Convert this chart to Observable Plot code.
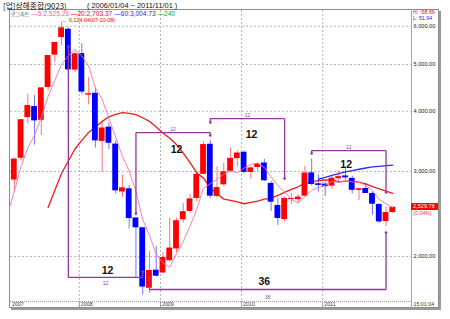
<!DOCTYPE html>
<html><head><meta charset="utf-8">
<script src="https://cdn.jsdelivr.net/npm/d3@7"></script>
<script src="https://cdn.jsdelivr.net/npm/@observablehq/plot@0.6"></script>
<style>
body{margin:0;background:#fff;}
#wrap{position:relative;width:450px;height:319px;overflow:hidden;font-family:"Liberation Sans",Arial,sans-serif;}
#wrap svg{position:absolute;left:0;top:0;}
.ov{position:absolute;white-space:pre;line-height:1;}
</style></head>
<body><div id="wrap"></div>
<script>
// ---- data: Shanghai Composite monthly bars ----
const months = ("2006-01 2006-02 2006-03 2006-04 2006-05 2006-06 2006-07 2006-08 2006-09 2006-10 2006-11 2006-12 " +
"2007-01 2007-02 2007-03 2007-04 2007-05 2007-06 2007-07 2007-08 2007-09 2007-10 2007-11 2007-12 " +
"2008-01 2008-02 2008-03 2008-04 2008-05 2008-06 2008-07 2008-08 2008-09 2008-10 2008-11 2008-12 " +
"2009-01 2009-02 2009-03 2009-04 2009-05 2009-06 2009-07 2009-08 2009-09 2009-10 2009-11 2009-12 " +
"2010-01 2010-02 2010-03 2010-04 2010-05 2010-06 2010-07 2010-08 2010-09 2010-10 2010-11 2010-12 " +
"2011-01 2011-02 2011-03 2011-04 2011-05 2011-06 2011-07 2011-08 2011-09 2011-10 2011-11").split(" ");
const open = [1163,1258,1299,1298,1450,1640,1675,1612,1660,1754,1840,2101,
2728,2773,2881,3196,3880,4090,3831,4479,5229,5683,5914,4868,
5265,4320,4358,3463,3708,3420,2722,2763,2404,2294,1719,1874,
1849,1961,2074,2383,2480,2638,2961,3417,2664,2816,3003,3191,
3289,2986,3059,3125,2835,2552,2386,2624,2623,2667,2981,2830,
2825,2798,2900,2938,2904,2741,2767,2702,2565,2363,2467];
const high = [1263,1307,1304,1445,1677,1757,1757,1660,1756,1840,2100,2698,
3000,3049,3198,3847,4336,4312,4472,5219,5553,6124.04,5955,5312,
5523,4695,4473,3786,3786,3474,2952,2806,2410,2300,2050,2100,
2038,2402,2402,2579,2688,2999,3454,3478,3068,3123,3361,3310,
3306,3073,3130,3181,2860,2643,2658,2703,2688,3073,3186.72,2953,
2852,2932,3001,3067.46,2936,2777,2826,2723,2566,2536,2536];
const low = [1161,1235,1263,1294,1445,1541,1575,1541,1630,1750,1830,2080,
2541,2635,2723,3152,3760,3404,3563,4405,5035,5462,4778,4812,
4330,4123,3357,2990.79,3333,2693,2650,2284,1802.33,1664.92,1678,1814,
1844,1950,2037,2347,2461,2598,2958,2639,2639,2791,2993,3063,
2968,2890,2995,2861,2481,2319.74,2362,2562,2573,2661,2800,2721,
2661,2757,2850,2882,2697,2610,2701,2437,2344,2307.15,2460];
const close = [1258.05,1299.03,1298.30,1440.22,1641.30,1672.21,1612.73,1658.64,1752.42,1837.99,2099.29,2675.47,
2786.34,2881.07,3183.98,3841.27,4109.65,3820.70,4471.03,5218.82,5552.30,5954.77,4871.78,5261.56,
4383.39,4348.54,3472.71,3693.11,3433.35,2736.10,2775.72,2397.37,2293.78,1728.79,1871.16,1820.81,
1990.66,2082.85,2373.21,2477.57,2632.93,2959.36,3412.06,2667.75,2779.43,2995.85,3195.30,3277.14,
2989.29,3051.94,3109.10,2870.61,2592.15,2398.37,2637.50,2638.80,2655.66,2978.84,2820.18,2808.08,
2790.69,2905.05,2928.11,2911.51,2743.47,2762.08,2701.73,2567.34,2359.22,2468.25,2529.76];
const yTicks = [2000, 3000, 4000, 5000, 6000];
const stripBottom = 1561;  // value at the lower edge of the date strip (log extrapolation)
const peakDate = "07-10-08", troughDate = "08-10-06";
// cycle annotations (purple brackets)
const cycleFrom = ["2007-11", "2008-09", "2009-08", "2010-11", "2008-11"];
const cycleTo = ["2008-10", "2009-08", "2010-07", "2011-10", "2011-10"];
const cycleLevel = [1810, 3613, 3863, 3316, 1709];
const cycleFromEnd = [5445, 2455, 3790, 3269, 1818];
const cycleToEnd = [1862, 3563, 2901, 2714, 2243];
const cycleBars = [12, 12, 12, 12, 36];
const cycleSmallLabel = [1758, 3666, 3919, 3364, 1645];
const cycleBigLabelX = [27.8, 38.0, 49.1, 63.1, 51.0];
const cycleBigLabel = [1871, 3332, 3579, 3102, 1775];
const legendMA = [[5, "2,525.26", "#ff5fa0"], [20, "2,703.37", "#ff0000"], [60, "3,004.73", "#2a2aff"], [240, "", "#22aa22"]];

// ---- build ----
const red = "#ff0000", blue = "#0000ff", purple = "#93379f";
const fmt = d3.format(",.2f");
const rows = months.map((m, i) => ({i, m, o: open[i], h: high[i], l: low[i], c: close[i]}));
const col = d => d.c >= d.o ? red : blue;
const ma = k => v => (v.length < k || v.some(x => x == null || isNaN(x))) ? NaN : d3.mean(v);
const janRows = rows.filter(d => d.m.endsWith("-01") && d.i > 14);
const gridPos = janRows.map(d => d.i - 0.37);
const cycles = cycleFrom.map((f, j) => ({
  from: months.indexOf(f), to: months.indexOf(cycleTo[j]), level: cycleLevel[j],
  fromEnd: cycleFromEnd[j], toEnd: cycleToEnd[j], bars: cycleBars[j],
  smallY: cycleSmallLabel[j], bigX: cycleBigLabelX[j], bigY: cycleBigLabel[j]
}));
const peak = rows.reduce((a, b) => b.h > a.h ? b : a);
const trough = rows.reduce((a, b) => b.l < a.l ? b : a);
const last = rows[rows.length - 1];
const yDomain = [1614, 6468];

const chart = Plot.plot({
  width: 450, height: 319,
  marginLeft: 10, marginRight: 39, marginTop: 10, marginBottom: 18,
  x: {type: "linear", domain: [13.44, 72.77], axis: null},
  y: {type: "log", domain: yDomain, axis: null},
  style: {fontFamily: "Liberation Sans, Arial, sans-serif", fontSize: "5.6px", background: "transparent", overflow: "visible"},
  marks: [
    Plot.gridY(yTicks, {stroke: "#b4b4b4", strokeOpacity: 1, strokeDasharray: "2,2"}),
    Plot.gridX(gridPos, {stroke: "#b4b4b4", strokeOpacity: 1, strokeDasharray: "2,2"}),
    Plot.axisY(yTicks, {anchor: "right", tickSize: 0, tickPadding: 2, tickFormat: fmt, color: "#222", label: null}),
    Plot.ruleX(gridPos, {y1: yDomain[0], y2: stripBottom, stroke: "#999"}),
    Plot.text(janRows, {x: d => d.i - 0.37, frameAnchor: "bottom", dy: 4.2, dx: 1.5, textAnchor: "start", text: d => d.m.slice(0, 4), fontSize: 5.3, fill: "#333"}),
    Plot.text([rows[14]], {frameAnchor: "bottom-left", dy: 4.2, dx: 1.5, textAnchor: "start", text: d => d.m.slice(0, 4), fontSize: 5.3, fill: "#333"}),
    Plot.text(["15:01:04"], {frameAnchor: "bottom-right", dy: 4.2, dx: 2, textAnchor: "start", text: d => d, fontSize: 5.3, fill: "#333"}),
    // moving averages
    Plot.lineY(rows, Plot.windowY({k: 20, anchor: "end", reduce: ma(20)}, {x: "i", y: "c", stroke: "#ee1c1c", strokeWidth: 1.3, clip: true})),
    Plot.lineY(rows, Plot.windowY({k: 60, anchor: "end", reduce: ma(60)}, {x: "i", y: "c", stroke: "#2a2aff", strokeWidth: 1.3, clip: true})),
    // candles
    Plot.ruleX(rows, {x: "i", y1: "l", y2: "h", stroke: col, strokeWidth: 1, strokeOpacity: 0.55, clip: true}),
    Plot.rect(rows, {x1: d => d.i - 0.43, x2: d => d.i + 0.43, y1: "o", y2: "c", fill: col, clip: true}),
    Plot.lineY(rows, Plot.windowY({k: 5, anchor: "end", reduce: ma(5)}, {x: "i", y: "c", stroke: "#ff6fa6", strokeWidth: 0.9, clip: true})),
    // cycle brackets
    Plot.link(cycles, {x1: "from", x2: "to", y1: "level", y2: "level", stroke: purple, strokeWidth: 1.3}),
    Plot.link(cycles, {x1: "from", x2: "from", y1: "level", y2: "fromEnd", stroke: purple, strokeWidth: 1.3}),
    Plot.link(cycles, {x1: "to", x2: "to", y1: "level", y2: "toEnd", stroke: purple, strokeWidth: 1.3}),
    Plot.dot(cycles, {x: "from", y: "fromEnd", r: 1.3, fill: purple, stroke: null}),
    Plot.dot(cycles, {x: "to", y: "toEnd", r: 1.3, fill: purple, stroke: null}),
    Plot.text(cycles, {x: d => (d.from + d.to) / 2, y: "smallY", text: "bars", fill: purple, fontSize: 5}),
    Plot.text(cycles, {x: "bigX", y: "bigY", text: "bars", fill: "#111", fontSize: 10.5, fontWeight: "bold"}),
    // extremes
    Plot.text([peak], {x: "i", y: "h", text: d => `← ${fmt(d.h)}(${peakDate})`, textAnchor: "start", dx: 0.5, dy: -2, fill: red, fontSize: 5.4}),
    Plot.text([trough], {x: "i", y: "l", text: d => `← ${fmt(d.l)}(${troughDate})`, textAnchor: "start", dx: 0.5, dy: 3, fill: "#2b3bd6", fontSize: 5.4})
  ]
});
const wrap = document.getElementById("wrap");
wrap.appendChild(chart);

function add(html, css) {
  const e = document.createElement("div");
  e.className = "ov"; e.innerHTML = html; e.style.cssText += css;
  wrap.appendChild(e); return e;
}
// frame pieces
add("", "left:9px;top:9px;width:430px;height:299px;border:1px solid #8c8c8c;box-sizing:border-box;box-shadow:2px 2px 0 #9a9a9a;");
add("", "left:411px;top:9px;width:0;height:299px;border-left:1px solid #a8a8a8;");
add("", "left:9px;top:301px;width:402px;height:0;border-top:1px dotted #999;");
// title
add(`[업]상해종합(9023)`, `left:3px;top:1.5px;font-size:7.8px;line-height:8px;font-family:"Noto Sans CJK KR";color:#111;`);
add(`( 2006/01/04 ~ 2011/11/01 )`, `left:87px;top:1.5px;font-size:7.4px;line-height:8px;color:#111;`);
// legend row
let leg = `<span style="font-family:'Noto Sans CJK KR';font-size:5px;color:#444">로그차트</span> `;
for (const [k, v, c] of legendMA) leg += `<span style="color:${c}">—${k}${v ? ":" + v : ""}</span> `;
add(leg, "left:11px;top:11px;font-size:6.6px;");
add(`<span style="color:#f00">H: -58.69</span><br><span style="color:#22f">L: 51.94</span>`, "left:413px;top:10px;font-size:5.3px;line-height:5.6px;");
// current price tag
const ty = chart.scale("y").apply(last.c);
add(fmt(last.c), `left:411px;top:${ty - 3.5}px;width:27px;height:7px;background:#f00;color:#fff;font-size:5.6px;line-height:7px;padding-left:2px;box-sizing:border-box;`);
add("(0.04%)", `left:413px;top:${ty + 4}px;font-size:5.3px;color:#f33;`);
</script></body></html>
